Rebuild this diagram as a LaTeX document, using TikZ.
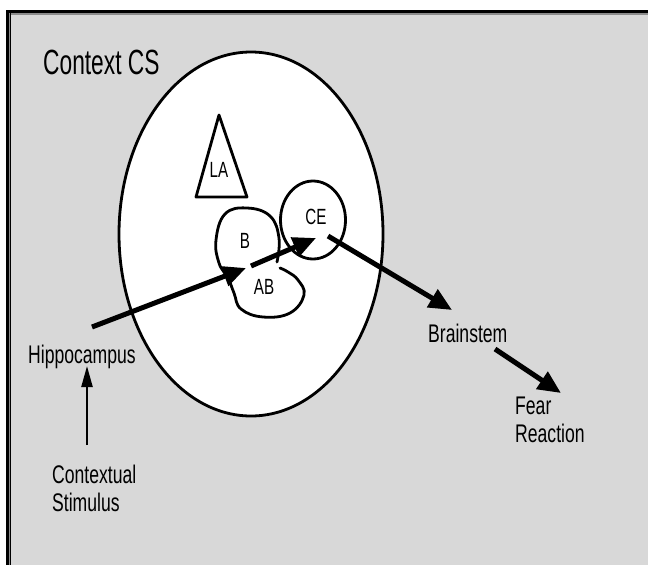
\documentclass[tikz,border=0pt]{standalone}
\usepackage{fontspec}
\setmainfont{Liberation Sans}
\newfontfamily\lblfont[FakeStretch=0.69]{Liberation Sans}
\newfontfamily\ttlfont[FakeStretch=0.65]{Liberation Sans}
\usetikzlibrary{arrows.meta}
\definecolor{panel}{HTML}{D8D8D8}
\tikzset{
  outline/.style={line width=2.8pt, line join=round},
  boldarrow/.style={line width=5pt, -{Triangle[length=23pt,width=20pt]}},
  thinarrow/.style={line width=2.2pt, -{Triangle[length=21pt,width=11pt]}},
  lbl/.style={inner sep=0pt, font=\lblfont\fontsize{25.5}{28}\selectfont},
  inlbl/.style={inner sep=0pt, font=\lblfont\fontsize{22}{24}\selectfont},
}
\begin{document}
\begin{tikzpicture}[x=1pt,y=-1pt]
\useasboundingbox (0,0) rectangle (648,565);
% panel and its frame
\fill[panel] (6,10) rectangle (648,565);
\fill[black] (6,10) rectangle (648,13.3);
\fill[black!45] (9,13.3) rectangle (648,14.5);
\fill[black] (6,10) rectangle (9,565);
\fill[black!45] (9,13.3) rectangle (10,565);
\fill[black] (10,13.3) rectangle (11.2,565);

% title
\node[inner sep=0pt, anchor=base west, font=\ttlfont\fontsize{35}{38}\selectfont] (title) at (43,74) {Context CS};

% amygdala region
\draw[outline, fill=white] (251,234) ellipse [x radius=132, y radius=182];
\draw[outline] (219,115) -- (247,197) -- (196,197) -- cycle;
\node[inlbl] (la) at (219,170) {LA};
\draw[outline] (313,220) ellipse [x radius=32.5, y radius=39];
\node[inlbl] (ce) at (316,217) {CE};
% basal (B) and accessory basal (AB) outline
\draw[outline, line cap=round] plot[smooth, tension=0.7] coordinates {
  (277,262) (279,238) (270,216) (247,208) (225,214) (216,240) (219,263)
  (228,278) (234,293) (241,309) (263,317) (290,313) (304,295) (298,280)
  (288,272) (280,268)};
\node[inlbl] (b) at (245,241) {B};
\node[inlbl] (ab) at (264,287) {AB};

% outside labels
\node[lbl, anchor=base west] (hip) at (28,363) {Hippocampus};
\node[lbl, anchor=base west] (brain) at (428,342) {Brainstem};
\node[lbl, anchor=base west] (fear) at (515,414) {Fear};
\node[lbl, anchor=base west] (react) at (515,442) {Reaction};
\node[lbl, anchor=base west] (ctx) at (52,483) {Contextual};
\node[lbl, anchor=base west] (stim) at (52,511) {Stimulus};

% connector ends
\coordinate (hipOut) at (92,327);
\coordinate (abIn) at (246,268);
\coordinate (abOut) at (251,266);
\coordinate (ceIn) at (316,238);
\coordinate (ceOut) at (328,236);
\coordinate (brainIn) at (452,310);
\coordinate (brainOut) at (495,349);
\coordinate (fearIn) at (561,393);
\coordinate (ctxOut) at (87,445);
\coordinate (hipIn) at (87,366);

\draw[boldarrow] (hipOut) -- (abIn);
\draw[boldarrow] (abOut) -- (ceIn);
\draw[boldarrow] (ceOut) -- (brainIn);
\draw[boldarrow] (brainOut) -- (fearIn);
\draw[thinarrow] (ctxOut) -- (hipIn);
\end{tikzpicture}
\end{document}
